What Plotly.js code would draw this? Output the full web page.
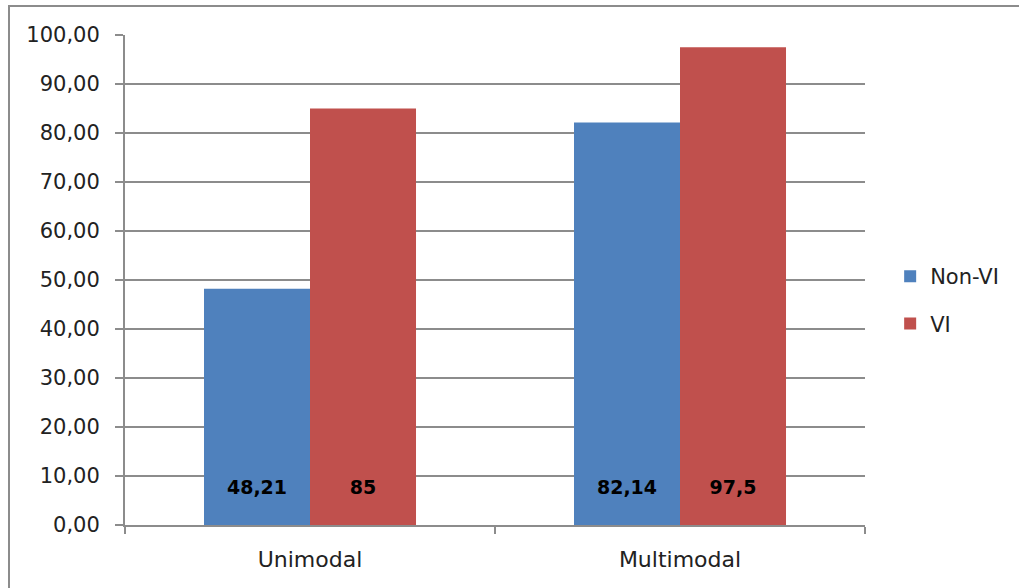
<!DOCTYPE html>
<html>
<head>
<meta charset="utf-8">
<script src="https://cdn.plot.ly/plotly-3.0.1.min.js"></script>
<style>
  html, body { margin: 0; padding: 0; background: #fff; overflow: hidden; }
  #chart { width: 1019px; height: 588px; position: absolute; left: 0; top: 0; }
  #frame { position: absolute; left: 8px; top: 5px; width: 1040px; height: 620px;
           border: 2px solid #8c8c8c; pointer-events: none; box-sizing: border-box; }
</style>
</head>
<body>
<div id="chart"></div>
<div id="frame"></div>
<script>
const categories = ["Unimodal", "Multimodal"];
const seriesNames = ["Non-VI", "VI"];
const nonVI = [48.21, 82.14];
const vi = [85, 97.5];
const yTicks = [0, 10, 20, 30, 40, 50, 60, 70, 80, 90, 100];

const fmt = v => String(v).replace('.', ',');
const labelText = vals => vals.map(v => fmt(v) + '<br><span style="font-size:14px"> </span>');

const common = {
  type: 'bar',
  x: categories,
  textposition: 'inside',
  insidetextanchor: 'start',
  textangle: 0,
  insidetextfont: { family: 'DejaVu Sans', size: 19, color: '#000', weight: 'bold' },
  hoverinfo: 'none',
  cliponaxis: false
};

const data = [
  Object.assign({}, common, {
    name: seriesNames[0], y: nonVI, text: labelText(nonVI), texttemplate: '<b>%{text}</b>',
    marker: { color: '#4F81BD' }, legendgroup: 'a'
  }),
  Object.assign({}, common, {
    name: seriesNames[1], y: vi, text: labelText(vi), texttemplate: '<b>%{text}</b>',
    marker: { color: '#C0504D' }, legendgroup: 'b'
  })
];

const layout = {
  width: 1019, height: 588,
  margin: { l: 125, r: 154, t: 35, b: 63, pad: 0 },
  paper_bgcolor: '#fff', plot_bgcolor: '#fff',
  barmode: 'group',
  bargap: 0.427, bargroupgap: 0,
  separators: ',.',
  font: { family: 'DejaVu Sans', size: 21, color: '#222' },
  showlegend: true,
  legend: {
    x: 1.034, xanchor: 'left', y: 0.459, yanchor: 'middle',
    font: { family: 'DejaVu Sans', size: 21, color: '#222' },
    tracegroupgap: 17, bgcolor: 'rgba(0,0,0,0)'
  },
  xaxis: {
    type: 'category',
    showline: true, linecolor: '#8c8c8c', linewidth: 2,
    ticks: 'outside', tickson: 'boundaries', ticklen: 7, tickcolor: '#8c8c8c', tickwidth: 2,
    ticklabelstandoff: 14,
    tickfont: { family: 'DejaVu Sans', size: 22, color: '#222' },
    showgrid: false, zeroline: false, fixedrange: true
  },
  yaxis: {
    range: [0, 100],
    tickvals: yTicks, tickformat: '.2f',
    showline: true, linecolor: '#8c8c8c', linewidth: 2,
    ticks: 'outside', ticklen: 8, tickcolor: '#8c8c8c', tickwidth: 2,
    ticklabelstandoff: 11,
    showgrid: true, gridcolor: '#8c8c8c', gridwidth: 2,
    zeroline: false,
    tickfont: { family: 'DejaVu Sans', size: 21, color: '#222' },
    fixedrange: true
  }
};

Plotly.newPlot('chart', data, layout, { displayModeBar: false, staticPlot: true });
</script>
</body>
</html>
